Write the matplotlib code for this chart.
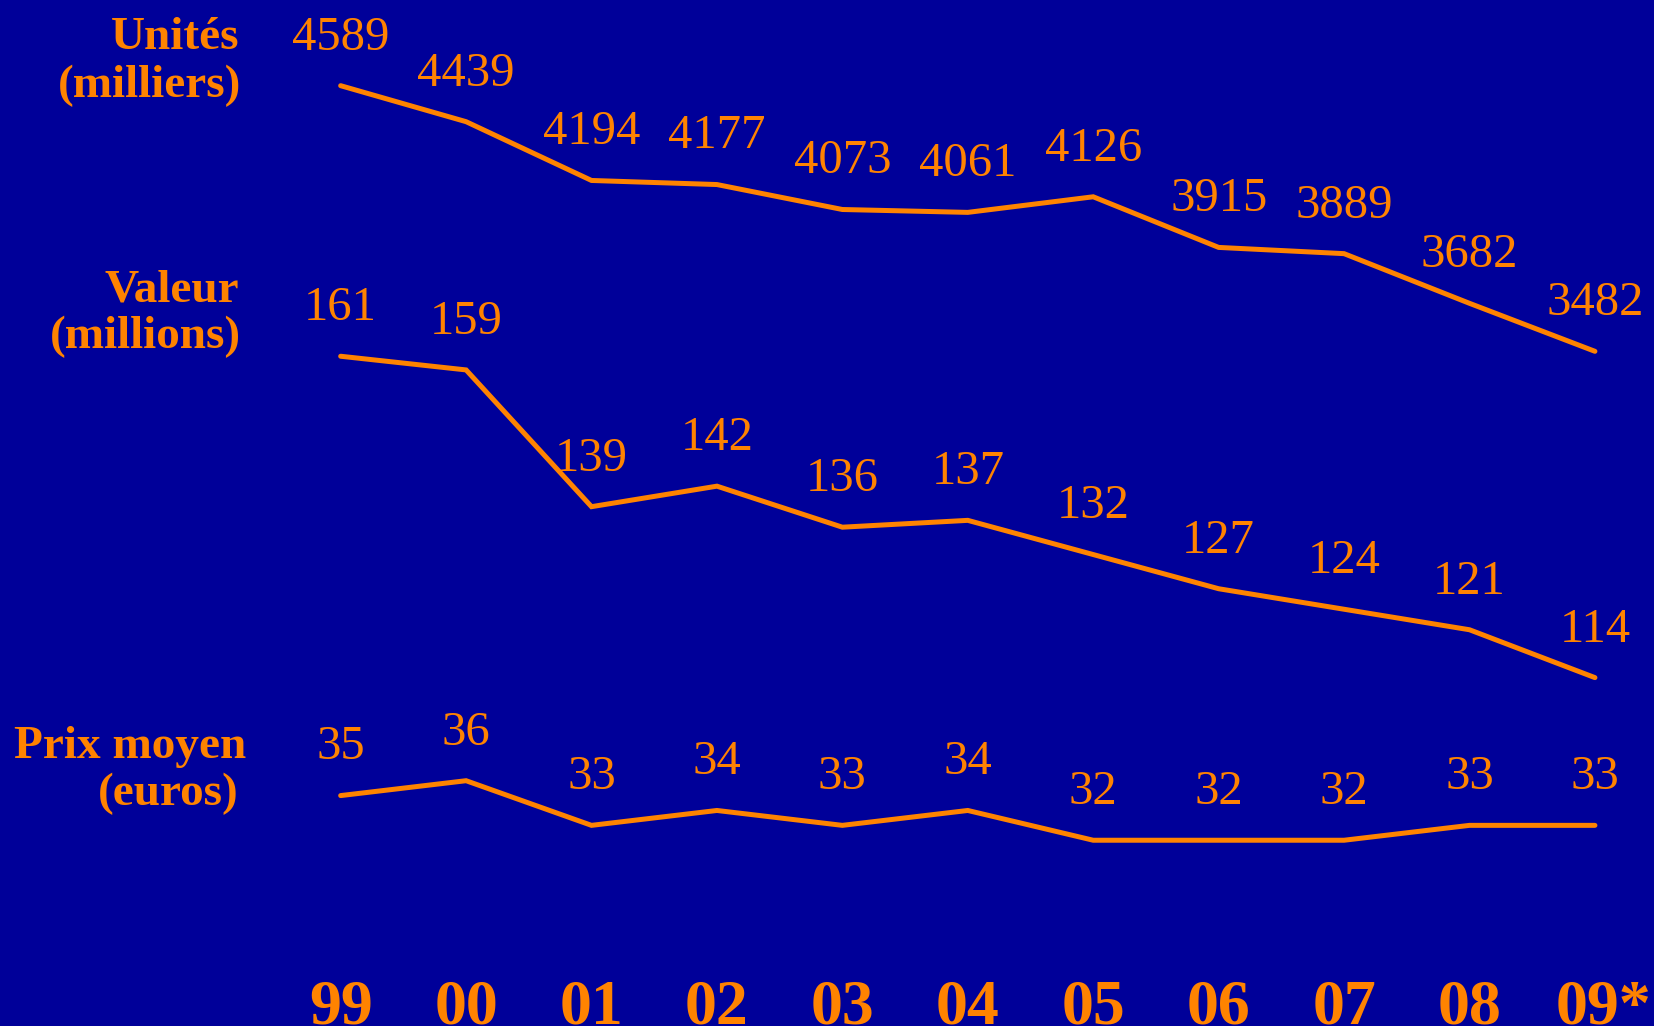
import matplotlib
matplotlib.use("Agg")
import matplotlib.pyplot as plt

# ---- data ----
years = ["99", "00", "01", "02", "03", "04", "05", "06", "07", "08", "09*"]
unites = [4589, 4439, 4194, 4177, 4073, 4061, 4126, 3915, 3889, 3682, 3482]
valeur = [161, 159, 139, 142, 136, 137, 132, 127, 124, 121, 114]
prix = [35, 36, 33, 34, 33, 34, 32, 32, 32, 33, 33]
row_labels = [("Unités", "(milliers)"), ("Valeur", "(millions)"), ("Prix moyen", "(euros)")]

BG = "#000099"
OR = "#FF8300"
W, H = 1654, 1026

plt.rcParams['font.family'] = ['Liberation Serif', 'DejaVu Serif']

fig = plt.figure(figsize=(W / 100, H / 100), dpi=100, facecolor=BG)

xlim = (-2.716, 10.471)
series = [
    (unites, (670.2, 4946.1)),
    (valeur, (63.05, 213.1)),
    (prix, (19.52, 88.45)),
]

axes = []
for vals, ylim in series:
    ax = fig.add_axes([0, 0, 1, 1])
    ax.set_xlim(*xlim)
    ax.set_ylim(*ylim)
    ax.axis('off')
    ax.patch.set_alpha(0)
    xs = list(range(len(vals)))
    ax.plot(xs, vals, color=OR, lw=3.6, solid_capstyle='round', solid_joinstyle='miter')
    for x, v in zip(xs, vals):
        ax.annotate(str(v), (x, v), xytext=(0, 26), textcoords='offset points',
                    ha='center', va='baseline', color=OR, fontsize=35)
    axes.append(ax)

# year labels along bottom
ax0 = axes[0]
for i, lab in enumerate(years):
    dx = 6.5 if lab.endswith('*') else 0
    ax0.annotate(lab, (i, 3 / H), xycoords=ax0.get_xaxis_transform(),
                 xytext=(dx, 0), textcoords='offset points',
                 ha='center', va='baseline', color=OR, fontsize=46, fontweight='bold')

# row labels
label_pos = [
    ((239, 49.3), (241, 96.7)),
    ((239, 301.7), (241, 348.3)),
    ((246, 758.3), (239, 805)),
]
for (l1, l2), ((x1, y1), (x2, y2)) in zip(row_labels, label_pos):
    fig.text(x1 / W, 1 - y1 / H, l1, ha='right', va='baseline', color=OR,
             fontsize=34, fontweight='bold')
    fig.text(x2 / W, 1 - y2 / H, l2, ha='right', va='baseline', color=OR,
             fontsize=34, fontweight='bold')

fig.savefig("out.png", dpi=100, facecolor=BG)
